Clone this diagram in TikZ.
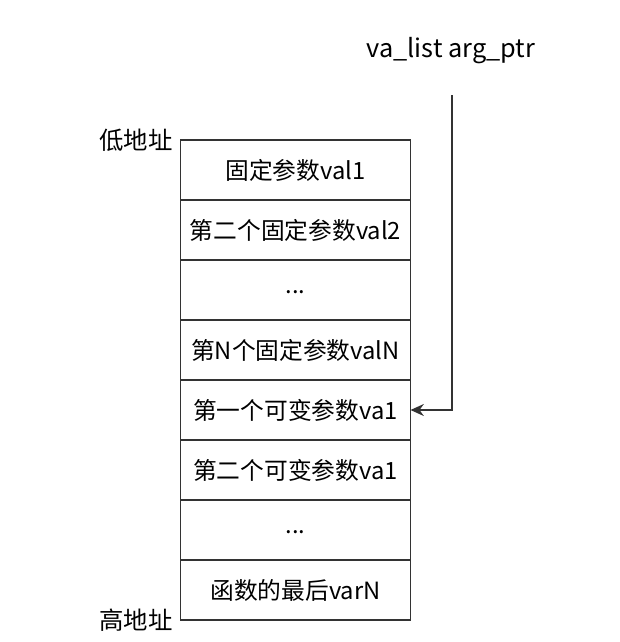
\documentclass[tikz,border=0pt]{standalone}
\usepackage{fontspec}
\setmainfont{Noto Sans CJK SC}
\usetikzlibrary{positioning,arrows.meta}
\definecolor{linegray}{HTML}{333333}
\tikzset{
  cell/.style={draw=linegray, line width=1pt, minimum width=172.5pt, minimum height=45pt,
    inner sep=0pt, outer sep=0pt, font=\fontsize{17.8}{20}\selectfont},
  addr/.style={font=\fontsize{18.3}{21}\selectfont},
}
\newcommand{\celldots}{\raisebox{-2.5pt}[0pt][0pt]{...}}
\begin{document}
\begin{tikzpicture}[x=0.75pt,y=-0.75pt]
  \useasboundingbox (0,0) rectangle (620,642);

  % Stack cells
  \node[cell] (c1) at (295.5,170) {固定参数val1};
  \node[cell, below=0pt of c1] (c2) {第二个固定参数val2};
  \node[cell, below=0pt of c2] (c3) {\celldots};
  \node[cell, below=0pt of c3] (c4) {第N个固定参数valN};
  \node[cell, below=0pt of c4] (c5) {第一个可变参数va1};
  \node[cell, below=0pt of c5] (c6) {第二个可变参数va1};
  \node[cell, below=0pt of c6] (c7) {\celldots};
  \node[cell, below=0pt of c7] (c8) {函数的最后varN};

  % Addresses
  \node[addr] (low) at (136,140) {低地址};
  \node[addr] (high) at (136,620) {高地址};

  % Pointer
  \node[addr, font=\fontsize{19}{22}\selectfont] (ptr) at (451,51) {va\_list arg\_ptr};
  \coordinate (ptrtop) at (452,95);
  \draw[linegray, line width=1pt, -{Stealth[length=10pt,width=9pt]}] (ptrtop) |- (c5.east);
\end{tikzpicture}
\end{document}
